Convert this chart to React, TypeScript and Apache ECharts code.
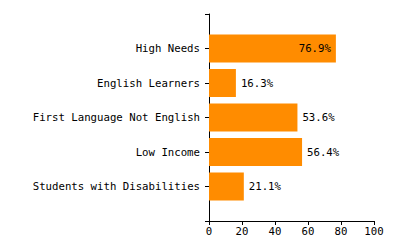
import React, { useEffect, useRef } from "react";
import * as echarts from "echarts";

const categories = [
  "High Needs",
  "English Learners",
  "First Language Not English",
  "Low Income",
  "Students with Disabilities",
];
const values = [76.9, 16.3, 53.6, 56.4, 21.1];
const xTicks = [0, 20, 40, 60, 80, 100];

const FONT = "DejaVu Sans Mono";
const FS = 10.7;

export default function App() {
  const ref = useRef<HTMLDivElement>(null);
  useEffect(() => {
    const chart = echarts.init(ref.current!, null, { renderer: "svg" });
    const cats = ["", ...categories, ""];
    const data: any[] = [null];
    values.forEach((v) => {
      const inside = v > 70;
      data.push({
        value: v,
        label: {
          show: true,
          position: inside ? "insideRight" : "right",
          distance: 5,
          formatter: (p: any) => p.value.toFixed(1) + "%",
          color: "#000",
          fontFamily: FONT,
          fontSize: FS,
        },
      });
    });
    data.push(null);
    chart.setOption({
      animation: false,
      grid: { left: 209, right: 26, top: 14, bottom: 29, containLabel: false },
      xAxis: {
        type: "value",
        min: xTicks[0],
        max: xTicks[xTicks.length - 1],
        interval: 20,
        axisLine: { show: true, lineStyle: { color: "#000", width: 1 } },
        axisTick: { show: true, length: 4, lineStyle: { color: "#000" } },
        axisLabel: { color: "#000", fontFamily: FONT, fontSize: FS, margin: 5 },
        splitLine: { show: false },
      },
      yAxis: {
        type: "category",
        data: cats,
        inverse: true,
        boundaryGap: false,
        axisLine: { show: true, lineStyle: { color: "#000", width: 1 } },
        axisTick: { show: true, length: 4, lineStyle: { color: "#000" } },
        axisLabel: { color: "#000", fontFamily: FONT, fontSize: FS, margin: 9, interval: 0 },
        splitLine: { show: false },
      },
      series: [
        {
          type: "bar",
          data,
          barWidth: 28,
          itemStyle: { color: "#FF8C00" },
        },
      ],
    });
    return () => chart.dispose();
  }, []);
  return <div ref={ref} style={{ width: 400, height: 250, position: "absolute", left: 0, top: 0 }} />;
}
